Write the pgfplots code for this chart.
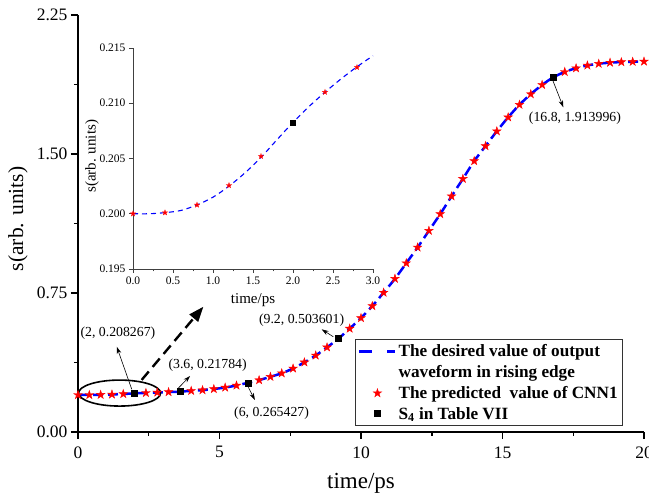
\documentclass[border=0pt]{standalone}
\usepackage{pgfplots}
\pgfplotsset{compat=1.18}
\usepackage{pgfplotstable}
\usepackage{fontspec}
\setmainfont{Liberation Serif}
\usetikzlibrary{arrows.meta}

\pgfdeclareplotmark{fstar}{%
 \pgfpathmoveto{\pgfqpoint{0pt}{\pgfplotmarksize}}%
 \pgfpathlineto{\pgfqpoint{0.2245\pgfplotmarksize}{0.309\pgfplotmarksize}}%
 \pgfpathlineto{\pgfqpoint{0.951\pgfplotmarksize}{0.309\pgfplotmarksize}}%
 \pgfpathlineto{\pgfqpoint{0.363\pgfplotmarksize}{-0.118\pgfplotmarksize}}%
 \pgfpathlineto{\pgfqpoint{0.588\pgfplotmarksize}{-0.809\pgfplotmarksize}}%
 \pgfpathlineto{\pgfqpoint{0pt}{-0.382\pgfplotmarksize}}%
 \pgfpathlineto{\pgfqpoint{-0.588\pgfplotmarksize}{-0.809\pgfplotmarksize}}%
 \pgfpathlineto{\pgfqpoint{-0.363\pgfplotmarksize}{-0.118\pgfplotmarksize}}%
 \pgfpathlineto{\pgfqpoint{-0.951\pgfplotmarksize}{0.309\pgfplotmarksize}}%
 \pgfpathlineto{\pgfqpoint{-0.2245\pgfplotmarksize}{0.309\pgfplotmarksize}}%
 \pgfpathclose
 \pgfusepathqfillstroke
}

\pgfplotsset{
  lineleg/.style={legend image code/.code={\draw[##1, dash pattern=on 13pt off 15pt] (0pt,0pt) -- (36pt,0pt);}},
  markleg/.style={legend image code/.code={\draw[mark repeat=1, mark phase=1, ##1] plot coordinates {(18pt,0pt)};}},
}

\pgfplotstableread{
x y
0.0 0.2000
0.4 0.2001
0.8 0.2008
1.2 0.2025
1.6 0.2051
2.0 0.208267
2.4 0.2110
2.8 0.2133
3.2 0.2156
3.6 0.21784
4.0 0.2220
4.4 0.2260
4.8 0.2320
5.2 0.2400
5.6 0.2510
6.0 0.265427
6.4 0.2800
6.8 0.2980
7.2 0.3170
7.6 0.3430
8.0 0.3760
8.4 0.4130
8.8 0.4570
9.2 0.503601
9.6 0.5580
10.0 0.6150
10.4 0.6800
10.8 0.7520
11.2 0.8270
11.6 0.9110
12.0 0.9960
12.4 1.0860
12.8 1.1760
13.2 1.2720
13.6 1.3660
14.0 1.4620
14.4 1.5430
14.8 1.6230
15.2 1.6980
15.6 1.7660
16.0 1.8230
16.4 1.8730
16.8 1.913996
17.2 1.9430
17.6 1.9630
18.0 1.9780
18.4 1.9870
18.8 1.9930
19.2 1.9960
19.6 1.9980
20.0 1.9990
}\desired

\pgfplotstableread{
x y
0.0 0.2000
0.4 0.2001
0.8 0.2008
1.2 0.2025
1.6 0.2051
2.4 0.2110
2.8 0.2133
3.2 0.2156
4.0 0.2220
4.4 0.2260
4.8 0.2320
5.2 0.2400
5.6 0.2510
6.4 0.2800
6.8 0.2980
7.2 0.3170
7.6 0.3430
8.0 0.3760
8.4 0.4130
8.8 0.4570
9.6 0.5580
10.0 0.6150
10.4 0.6800
10.8 0.7520
11.2 0.8270
11.6 0.9110
12.0 0.9960
12.4 1.0860
12.8 1.1760
13.2 1.2720
13.6 1.3660
14.0 1.4620
14.4 1.5430
14.8 1.6230
15.2 1.6980
15.6 1.7660
16.0 1.8230
16.4 1.8730
17.2 1.9430
17.6 1.9630
18.0 1.9780
18.4 1.9870
18.8 1.9930
19.2 1.9960
19.6 1.9980
20.0 1.9990
}\predicted

\pgfplotstableread{
x y
2.0 0.208267
3.6 0.21784
6.0 0.265427
9.2 0.503601
16.8 1.913996
}\sfour

\pgfplotstableread{
x y
0.0 0.2000
0.2 0.2000
0.4 0.2001
0.6 0.2003
0.8 0.2008
1.0 0.2015
1.2 0.2025
1.4 0.2037
1.6 0.2051
1.8 0.2067
2.0 0.208267
2.2 0.2097
2.4 0.2110
2.6 0.2122
2.8 0.2133
3.0 0.2143
}\insetdesired

\pgfplotstableread{
x y
0.0 0.2000
0.4 0.2001
0.8 0.2008
1.2 0.20256
1.6 0.2052
2.4 0.2110
2.8 0.21325
}\insetpred

\begin{document}
\begin{tikzpicture}
\useasboundingbox (0,0) rectangle (649pt,501pt);
\begin{axis}[
  at={(78pt,69pt)}, anchor=south west,
  width=566pt, height=417pt, scale only axis,
  xmin=0, xmax=20, ymin=0, ymax=2.25,
  axis lines*=left,
  axis line style={line width=1.5pt, black},
  xtick={0,5,10,15,20}, ytick={0,0.75,1.5,2.25},
  minor x tick num=1, minor y tick num=1,
  tick align=outside, major tick length=7pt, minor tick length=4pt,
  every tick/.style={line width=1.5pt, black},
  /pgf/number format/assume math mode=true,
  yticklabel style={/pgf/number format/.cd, fixed, fixed zerofill, precision=2},
  xticklabel style={yshift=-4pt},
  ticklabel style={font=\fontsize{17.5}{20}\selectfont},
  xlabel={time/ps}, ylabel={s(arb. units)},
  xlabel style={font=\fontsize{23}{26}\selectfont, at={(axis description cs:0.5,-0.123)}, anchor=center},
  ylabel style={font=\fontsize{21.5}{24}\selectfont, at={(axis description cs:-0.106,0.511)}, anchor=center},
  clip=false,
  legend style={at={(rel axis cs:0.963,0.0144)}, anchor=south east,
    font=\bfseries\fontsize{17.2}{19}\selectfont, draw=black!80, line width=0.8pt,
    inner xsep=3pt, inner ysep=3pt, row sep=3.2pt},
  legend cell align=left,
]
\addplot[blue, line width=2.5pt, dash pattern=on 10pt off 5pt, smooth, lineleg]
  table {\desired};
\addlegendentry{The desired value of output}
\addlegendimage{empty legend}
\addlegendentry{waveform in rising edge}
\addplot[only marks, mark=fstar, mark size=4.5pt, red, mark options={fill=red, draw=red, solid, line width=0.4pt}, markleg]
  table {\predicted};
\addlegendentry{The predicted\ \ value of CNN1}
\addplot[only marks, mark=square*, mark size=3pt, black, mark options={solid}, markleg]
  table {\sfour};
\addlegendentry{S\textsubscript{4} in Table VII}

% ellipse around the zoomed region
\draw[black, line width=1.6pt] (axis cs:1.47,0.210) ellipse [x radius=41pt, y radius=13pt];
% big dashed arrow towards the inset
\draw[black, line width=2.4pt, dash pattern=on 11pt off 6pt, -{Triangle[length=15pt, width=11pt]}]
  (axis cs:2.25,0.281) -- (axis cs:4.43,0.676);

% annotations
\begin{scope}[every node/.style={font=\fontsize{13.8}{15}\selectfont}]
\node at (axis cs:1.41,0.534) {(2, 0.208267)};
\draw[line width=0.6pt, -{Stealth[length=7pt, width=4.5pt]}] (axis cs:1.90,0.230) -- (axis cs:1.37,0.460);
\node at (axis cs:4.58,0.362) {(3.6, 0.21784)};
\draw[line width=0.6pt, -{Stealth[length=7pt, width=4.5pt]}] (axis cs:3.54,0.236) -- (axis cs:3.96,0.302);
\node at (axis cs:6.84,0.101) {(6, 0.265427)};
\draw[line width=0.6pt, -{Stealth[length=7pt, width=4.5pt]}] (axis cs:6.02,0.241) -- (axis cs:6.25,0.173);
\node at (axis cs:7.90,0.601) {(9.2, 0.503601)};
\draw[line width=0.6pt, -{Stealth[length=7pt, width=4.5pt]}] (axis cs:9.02,0.514) -- (axis cs:8.61,0.554);
\node at (axis cs:17.56,1.693) {(16.8, 1.913996)};
\draw[line width=0.6pt, -{Stealth[length=7pt, width=4.5pt]}] (axis cs:16.77,1.900) -- (axis cs:17.15,1.752);
\end{scope}
\end{axis}

% inset
\begin{axis}[
  at={(133pt,232pt)}, anchor=south west,
  width=240pt, height=221pt, scale only axis,
  xmin=0, xmax=3, ymin=0.195, ymax=0.215,
  axis lines*=left,
  axis line style={line width=0.6pt, black!75},
  xtick={0,0.5,1,1.5,2,2.5,3}, ytick={0.195,0.200,0.205,0.210,0.215},
  minor x tick num=1,
  scaled y ticks=false, scaled x ticks=false,
  tick align=outside, major tick length=4pt, minor tick length=2.5pt,
  every tick/.style={line width=0.6pt, black!75},
  /pgf/number format/assume math mode=true,
  xticklabel style={/pgf/number format/.cd, fixed, fixed zerofill, precision=1},
  yticklabel style={/pgf/number format/.cd, fixed, fixed zerofill, precision=3},
  ticklabel style={font=\fontsize{11.5}{12}\selectfont},
  xlabel={time/ps}, ylabel={s(arb. units)},
  xlabel style={font=\fontsize{15}{16}\selectfont, at={(axis description cs:0.5,-0.14)}, anchor=center},
  ylabel style={font=\fontsize{15}{16}\selectfont, at={(axis description cs:-0.171,0.51)}, anchor=center},
  clip=false,
]
\addplot[blue, line width=1.1pt, dash pattern=on 5pt off 4pt, smooth] table {\insetdesired};
\addplot[only marks, mark=fstar, mark size=2.8pt, red, mark options={fill=red, draw=red, solid, line width=0.3pt}] table {\insetpred};
\addplot[only marks, mark=square*, mark size=2.5pt, black] coordinates {(2.0,0.208267)};
\end{axis}
\end{tikzpicture}
\end{document}
